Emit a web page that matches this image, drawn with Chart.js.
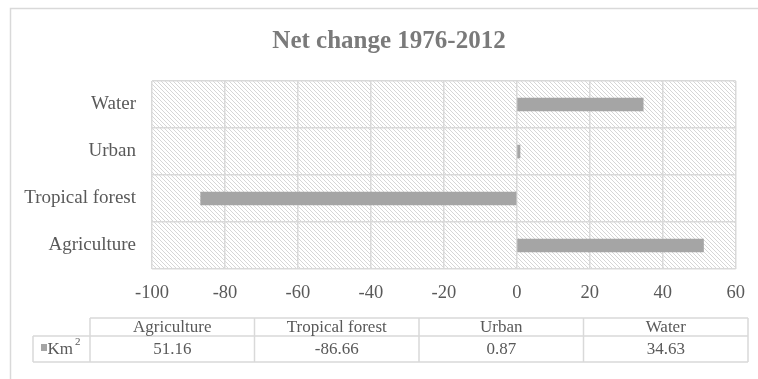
<!DOCTYPE html>
<html>
<head>
<meta charset="utf-8">
<script src="https://cdn.jsdelivr.net/npm/chart.js@4/dist/chart.umd.min.js"></script>
<style>
  html, body { margin: 0; padding: 0; background: #ffffff; }
  #wrap { position: relative; width: 758px; height: 379px; }
</style>
</head>
<body>
<div id="wrap"><canvas id="c" width="758" height="379"></canvas></div>
<script>
// Land-cover classes and their net change (km²) between 1976 and 2012
const categories = ['Agriculture', 'Tropical forest', 'Urban', 'Water'];
const netChange = [51.16, -86.66, 0.87, 34.63];
const seriesName = 'Km';
const titleText = 'Net change 1976-2012';
const axisMin = -100;
const axisMax = 60;
const axisStep = 20;

const FONT = "'Liberation Serif', 'Times New Roman', serif";
const TEXT = '#595959';
const LINE = '#d9d9d9';
const BAR = '#a5a5a5';

// diagonal hatch used behind the bars
function hatchPattern(ctx) {
  const t = document.createElement('canvas');
  t.width = 4; t.height = 4;
  const g = t.getContext('2d');
  g.fillStyle = '#ffffff';
  g.fillRect(0, 0, 4, 4);
  g.fillStyle = '#d6d6d6';
  for (let i = 0; i < 4; i++) g.fillRect(i, i, 1, 1);
  return ctx.createPattern(t, 'repeat');
}

const backdrop = {
  id: 'backdrop',
  beforeDraw(chart) {
    const { ctx, chartArea: a } = chart;
    ctx.save();
    // outer chart frame
    ctx.strokeStyle = LINE;
    ctx.lineWidth = 1.5;
    ctx.strokeRect(10.5, 8.5, 780, 400);
    // hatched plot area
    ctx.fillStyle = hatchPattern(ctx);
    ctx.fillRect(a.left, a.top, a.right - a.left, a.bottom - a.top);
    // chart title, centred on the chart object
    ctx.fillStyle = '#7a7a7a';
    ctx.font = 'bold 25px ' + FONT;
    ctx.textAlign = 'center';
    ctx.textBaseline = 'alphabetic';
    ctx.fillText(titleText, 389, 48);
    ctx.restore();
  }
};

// data table under the axis
const dataTable = {
  id: 'dataTable',
  afterDraw(chart) {
    const { ctx } = chart;
    const cols = [90, 254.5, 419, 583.5, 748];
    const yTop = 318, yMid = 336, yBot = 362;
    const legL = 33;
    ctx.save();
    ctx.strokeStyle = LINE;
    ctx.lineWidth = 1.5;
    ctx.beginPath();
    ctx.moveTo(cols[0], yTop); ctx.lineTo(cols[4], yTop);
    ctx.moveTo(legL, yMid); ctx.lineTo(cols[4], yMid);
    ctx.moveTo(legL, yBot); ctx.lineTo(cols[4], yBot);
    ctx.moveTo(legL, yMid); ctx.lineTo(legL, yBot);
    cols.forEach((x) => {
      ctx.moveTo(x, yTop); ctx.lineTo(x, yBot);
    });
    ctx.stroke();

    ctx.fillStyle = TEXT;
    ctx.textAlign = 'center';
    ctx.textBaseline = 'middle';
    ctx.font = '17px ' + FONT;
    categories.forEach((c, i) => {
      const cx = (cols[i] + cols[i + 1]) / 2;
      ctx.fillText(c, cx, (yTop + yMid) / 2 + 1);
      ctx.fillText(netChange[i].toFixed(2), cx, (yMid + yBot) / 2 + 1);
    });

    // legend key
    ctx.fillStyle = BAR;
    ctx.fillRect(41, 344, 6, 7);
    ctx.fillStyle = TEXT;
    ctx.textAlign = 'left';
    ctx.font = '17px ' + FONT;
    ctx.fillText(seriesName, 47.5, 350);
    const w = ctx.measureText(seriesName).width;
    ctx.font = '11px ' + FONT;
    ctx.fillText('2', 47.5 + w + 2, 342);
    ctx.restore();
  }
};

new Chart(document.getElementById('c'), {
  type: 'bar',
  data: {
    labels: categories,
    datasets: [{
      label: seriesName,
      data: netChange,
      backgroundColor: BAR,
      borderWidth: 0,
      barThickness: 13
    }]
  },
  plugins: [backdrop, dataTable],
  options: {
    indexAxis: 'y',
    responsive: false,
    animation: false,
    devicePixelRatio: 1,
    layout: { padding: { left: 0, right: 16, top: 81, bottom: 70 } },
    plugins: {
      legend: { display: false },
      tooltip: { enabled: false },
      title: { display: false }
    },
    scales: {
      x: {
        min: axisMin,
        max: axisMax,
        ticks: {
          stepSize: axisStep,
          color: TEXT,
          font: { family: FONT, size: 18.5 },
          padding: 13
        },
        grid: { color: LINE, lineWidth: 1.5, drawTicks: false },
        border: { display: false },
        afterFit(s) { s.height = 40; }
      },
      y: {
        reverse: true,
        ticks: {
          color: TEXT,
          font: { family: FONT, size: 19 },
          padding: 16
        },
        grid: { color: LINE, lineWidth: 1.5, drawTicks: false },
        border: { display: false },
        afterFit(s) { s.width = 152; }
      }
    }
  }
});
</script>
</body>
</html>
